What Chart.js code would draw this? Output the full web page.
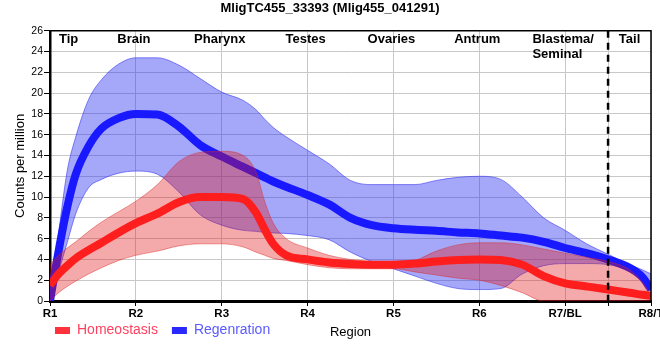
<!DOCTYPE html>
<html>
<head>
<meta charset="utf-8">
<script src="https://cdn.jsdelivr.net/npm/chart.js@4/dist/chart.umd.min.js"></script>
<style>
  html, body { margin: 0; padding: 0; background: #fff; }
  #wrap { width: 660px; height: 360px; }
</style>
</head>
<body>
<div id="wrap"><canvas id="c" width="660" height="360"></canvas></div>
<script>
// ---- data ----
const chartTitle = 'MligTC455_33393 (Mlig455_041291)';
const tickLabels = ['R1', 'R2', 'R3', 'R4', 'R5', 'R6', 'R7/BL', 'R8/T'];
const regionNames = ['Tip', 'Brain', 'Pharynx', 'Testes', 'Ovaries', 'Antrum', ['Blastema/', 'Seminal'], 'Tail'];
const dividerAt = 6.5;
const seriesNames = ['Homeostasis', 'Regenration'];
const xAxisTitle = 'Region';
const yAxisTitle = 'Counts per million';

const xs = [0, 0.1, 0.2, 0.3, 0.45, 0.6, 0.8, 1, 1.25, 1.5, 1.75, 2, 2.25, 2.4, 2.5, 2.6, 2.75, 3, 3.25, 3.5, 3.75, 4, 4.25, 4.5, 4.75, 5, 5.25, 5.5, 5.75, 6, 6.25, 6.5, 6.75, 6.9, 7];

const homeoMean  = [1.5, 2.6, 3.4, 4.1, 4.9, 5.6, 6.6, 7.5, 8.4, 9.5, 10.0, 10.0, 9.8, 8.5, 6.9, 5.5, 4.4, 4.0, 3.7, 3.55, 3.5, 3.5, 3.6, 3.8, 3.95, 4.0, 3.95, 3.5, 2.4, 1.7, 1.4, 1.1, 0.8, 0.6, 0.5];
const homeoUpper = [3.5, 4.4, 5.1, 5.7, 6.7, 7.6, 8.6, 9.6, 11.2, 13.4, 14.3, 14.4, 14.0, 12.4, 9.6, 7.5, 6.0, 5.1, 4.4, 4.0, 3.8, 3.6, 3.9, 4.8, 5.4, 5.6, 5.6, 5.4, 5.0, 4.6, 4.2, 3.8, 3.0, 1.8, 0.6];
const homeoLower = [0, 0.8, 1.4, 1.9, 2.6, 3.2, 3.9, 4.4, 4.8, 5.3, 5.5, 5.5, 5.2, 4.7, 4.4, 4.1, 3.9, 3.5, 3.2, 3.1, 3.1, 3.1, 2.8, 2.5, 2.2, 2.0, 1.5, 0.8, 0, 0, 0, 0, 0, 0, 0];

const regenMean  = [0, 4.8, 9.0, 12.2, 14.9, 16.6, 17.6, 18.0, 17.95, 16.8, 15.0, 13.9, 12.9, 12.3, 11.9, 11.5, 11.0, 10.2, 9.3, 8.0, 7.3, 7.0, 6.85, 6.75, 6.6, 6.5, 6.3, 6.1, 5.7, 5.1, 4.6, 4.0, 3.2, 2.3, 1.1];
const regenUpper = [0, 6.5, 12.5, 15.8, 19.4, 21.3, 22.8, 23.4, 23.4, 22.7, 21.4, 20.1, 19.3, 18.4, 17.5, 16.7, 15.8, 14.5, 13.2, 11.6, 11.2, 11.2, 11.2, 11.6, 11.9, 12.0, 11.7, 10.0, 8.0, 6.8, 5.5, 4.5, 3.5, 3.0, 2.6];
const regenLower = [0, 2.8, 5.6, 8.4, 10.9, 11.7, 12.3, 12.5, 12.2, 10.5, 8.3, 7.3, 6.8, 6.7, 6.6, 6.55, 6.5, 6.3, 5.9, 4.7, 3.8, 3.1, 2.4, 1.7, 1.2, 1.1, 1.2, 2.6, 3.4, 3.6, 3.6, 3.5, 2.8, 1.8, 0.8];

// ---- styles ----
const FONT = "'Liberation Sans', Arial, Helvetica, sans-serif";
const RED_LINE = 'rgb(255,30,30)';
const BLUE_LINE = 'rgb(25,25,255)';
const RED_BAND = 'rgba(225,20,20,0.36)';
const BLUE_BAND = 'rgba(40,45,240,0.42)';
const RED_EDGE = 'rgba(220,40,40,0.45)';
const BLUE_EDGE = 'rgba(60,60,240,0.6)';

const pts = arr => xs.map((x, i) => ({ x: x, y: arr[i] }));

Chart.defaults.font.family = FONT;

const decorPlugin = {
  id: 'decor',
  afterLayout(chart) {
    const lg = chart.legend;
    if (lg) { const h = lg.height; lg.left = 41; lg.top = 309.5; lg.bottom = 309.5 + h; }
    const tb = chart.titleBlock;
    if (tb) { tb.left = 0; tb.right = chart.width; }
  },
  afterDatasetsDraw(chart) {
    const { ctx, chartArea: a, scales: { x } } = chart;
    ctx.save();
    // dashed divider
    const dx = x.getPixelForValue(dividerAt);
    ctx.strokeStyle = '#000';
    ctx.lineWidth = 2.5;
    ctx.setLineDash([7, 5]);
    ctx.beginPath();
    ctx.moveTo(dx, a.top);
    ctx.lineTo(dx, a.bottom + 5);
    ctx.stroke();
    ctx.setLineDash([]);
    // frame top + right
    ctx.lineWidth = 1.5;
    ctx.beginPath();
    ctx.moveTo(a.left, a.top);
    ctx.lineTo(a.right, a.top);
    ctx.lineTo(a.right, a.bottom);
    ctx.stroke();
    // region names
    ctx.fillStyle = '#000';
    ctx.font = 'bold 13px ' + FONT;
    ctx.textBaseline = 'middle';
    const y0 = a.top + 9;
    regionNames.forEach((name, i) => {
      const lines = Array.isArray(name) ? name : [name];
      let cx;
      if (i === 0) {
        ctx.textAlign = 'left';
        ctx.fillText(lines[0], a.left + 9, y0);
        return;
      }
      if (i === regionNames.length - 1) {
        cx = (x.getPixelForValue(dividerAt) + x.getPixelForValue(i)) / 2;
      } else {
        cx = x.getPixelForValue(i) - 2;
      }
      const w = Math.max(...lines.map(t => ctx.measureText(t).width));
      ctx.textAlign = 'left';
      lines.forEach((t, k) => ctx.fillText(t, cx - w / 2, y0 + k * 15));
    });
    ctx.restore();
  }
};

const ds = (label, data, color, width, fill, bg) => ({
  label, data: pts(data), borderColor: color, borderWidth: width,
  backgroundColor: bg || color, fill: fill, pointRadius: 0,
  cubicInterpolationMode: 'monotone'
});

new Chart(document.getElementById('c'), {
  type: 'line',
  data: {
    datasets: [
      ds(seriesNames[0], homeoMean, RED_LINE, 8, false),
      ds('', homeoUpper, RED_EDGE, 1, '+1', RED_BAND),
      ds('', homeoLower, RED_EDGE, 1, false),
      ds(seriesNames[1], regenMean, BLUE_LINE, 8, false),
      ds('', regenUpper, BLUE_EDGE, 1, '+1', BLUE_BAND),
      ds('', regenLower, BLUE_EDGE, 1, false)
    ]
  },
  options: {
    responsive: false,
    animation: false,
    devicePixelRatio: 1,
    events: [],
    layout: { padding: { left: 0, right: 9, top: 0, bottom: 0 } },
    plugins: {
      title: {
        display: true, text: chartTitle, color: '#000',
        font: { size: 13, weight: 'bold' },
        padding: { top: 1, bottom: 14.2 }
      },
      legend: {
        position: 'bottom', align: 'start',
        labels: {
          boxWidth: 15, boxHeight: 7, padding: 14,
          font: { size: 14 },
          generateLabels: () => [
            { text: seriesNames[0], fillStyle: 'rgb(255,50,60)', strokeStyle: 'rgba(0,0,0,0)', lineWidth: 0, fontColor: 'rgb(255,64,96)', datasetIndex: 0 },
            { text: seriesNames[1], fillStyle: 'rgb(40,40,255)', strokeStyle: 'rgba(0,0,0,0)', lineWidth: 0, fontColor: 'rgb(90,90,255)', datasetIndex: 3 }
          ]
        }
      },
      tooltip: { enabled: false }
    },
    scales: {
      x: {
        type: 'linear', min: 0, max: 7,
        afterBuildTicks: s => { s.ticks = [0, 1, 2, 3, 4, 5, 6, dividerAt, 7].map(v => ({ value: v })); },
        afterFit: s => { s.height = 21; s.paddingLeft = 0; s.paddingRight = 0; },
        ticks: {
          autoSkip: false, maxRotation: 0, minRotation: 0, padding: 1,
          color: '#000', font: { size: 11.5, weight: 'bold' },
          callback: v => (Number.isInteger(v) ? tickLabels[v] : '')
        },
        grid: { color: '#c8c8c8', tickColor: '#000', tickLength: 5, lineWidth: 1 },
        border: { display: true, color: '#000', width: 3 },
        title: {
          display: true, text: xAxisTitle, color: '#000',
          font: { size: 13 }, padding: { top: 0, bottom: -17.8 }
        }
      },
      y: {
        min: 0, max: 26,
        afterFit: s => { s.width = 50; },
        ticks: { stepSize: 2, color: '#000', padding: 1, font: { size: 10.5 } },
        grid: { color: '#c8c8c8', tickColor: '#000', tickLength: 6, lineWidth: 1 },
        border: { display: true, color: '#000', width: 2.5 },
        title: {
          display: true, text: yAxisTitle, color: '#000',
          font: { size: 13 }, padding: { top: 12.2, bottom: 0 }
        }
      }
    }
  },
  plugins: [decorPlugin]
});
</script>
</body>
</html>
